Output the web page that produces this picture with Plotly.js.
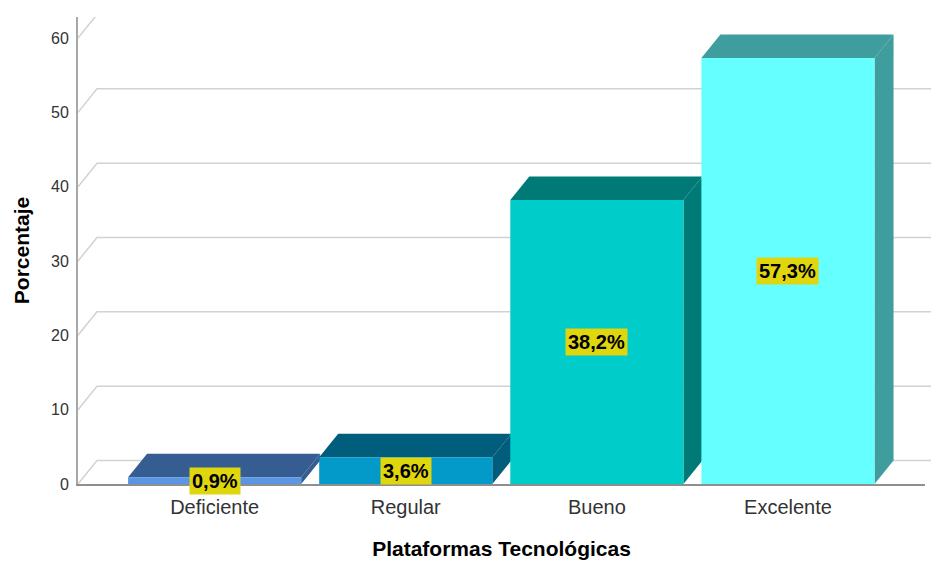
<!DOCTYPE html>
<html>
<head>
<meta charset="utf-8">
<script src="https://cdn.plot.ly/plotly-3.0.1.min.js"></script>
<style>html,body{margin:0;padding:0;background:#fff;}#chart{width:931px;height:561px;}</style>
</head>
<body>
<div id="chart"></div>
<script>
const categories = ['Deficiente', 'Regular', 'Bueno', 'Excelente'];
const percentages = [0.9, 3.6, 38.2, 57.3];
const frontColors = ['#5a96e2', '#0399c9', '#00cdca', '#66ffff'];
const depthColors = ['#365d91', '#005e7c', '#007a77', '#3f9d9d'];
const yTicks = [0, 10, 20, 30, 40, 50, 60];

const W = 931, H = 561;
const M = {l: 78, r: 6, t: 17, b: 77};
const xRange = [-0.715, 3.717];
const yRange = [0, 62.83];
const barWidth = 0.906;
const depthX = 19;      // px
const depthYpx = 23.5;  // px

const plotW = W - M.l - M.r;
const plotH = H - M.t - M.b;
const pxPerX = plotW / (xRange[1] - xRange[0]);
const pxPerY = plotH / (yRange[1] - yRange[0]);
const dY = depthYpx / pxPerY; // depth in data units
const hw = barWidth / 2 * pxPerX; // half width in px

const xs = categories.map((c, i) => i);
const font = 'Arial, "Liberation Sans", sans-serif';

const shapes = [];
// back-wall gridlines with perspective connector
yTicks.forEach(v => {
  shapes.push({
    type: 'path', layer: 'below',
    xref: 'paper', xsizemode: 'pixel', xanchor: 0,
    yref: 'y', ysizemode: 'scaled',
    path: `M0,${v} L${depthX},${v + dY} L${W - M.l},${v + dY}`,
    line: {color: '#d2d2d2', width: 1.5}
  });
});
// 3D top and side faces
percentages.forEach((v, i) => {
  shapes.push({
    type: 'path', layer: 'below',
    xref: 'x', xsizemode: 'pixel', xanchor: xs[i],
    yref: 'y', ysizemode: 'scaled',
    path: `M${-hw},${v} L${-hw + depthX},${v + dY} L${hw + depthX},${v + dY} L${hw},${v} Z`,
    fillcolor: depthColors[i], line: {width: 0}
  });
  shapes.push({
    type: 'path', layer: 'below',
    xref: 'x', xsizemode: 'pixel', xanchor: xs[i],
    yref: 'y', ysizemode: 'scaled',
    path: `M${hw},0 L${hw + depthX},${dY} L${hw + depthX},${v + dY} L${hw},${v} Z`,
    fillcolor: depthColors[i], line: {width: 0}
  });
});

const annotations = percentages.map((v, i) => ({
  x: xs[i], y: v / 2, xref: 'x', yref: 'y',
  text: v.toFixed(1).replace('.', ',') + '%',
  showarrow: false,
  bgcolor: '#e0d60e', borderpad: 2,
  font: {family: font, size: 20, color: '#000', weight: 'bold'}
}));

const trace = {
  type: 'bar', x: xs, y: percentages, width: barWidth,
  marker: {color: frontColors, line: {width: 0}},
  hoverinfo: 'skip'
};

const layout = {
  width: W, height: H,
  margin: M,
  paper_bgcolor: '#fff', plot_bgcolor: 'rgba(0,0,0,0)',
  showlegend: false,
  font: {family: font},
  xaxis: {
    range: xRange, tickvals: xs, ticktext: categories,
    showgrid: false, zeroline: false,
    showline: true, linecolor: '#8f8f8f', linewidth: 2,
    ticks: 'outside', ticklen: 4, tickcolor: 'rgba(0,0,0,0)',
    tickfont: {family: font, size: 20, color: '#333'},
    title: {text: 'Plataformas Tecnológicas', standoff: 24,
            font: {family: font, size: 21, color: '#000', weight: 'bold'}},
    automargin: false, fixedrange: true
  },
  yaxis: {
    range: yRange, tickvals: yTicks,
    showgrid: false, zeroline: false,
    showline: true, linecolor: '#a8a8a8', linewidth: 2,
    ticks: 'outside', ticklen: 4, tickcolor: 'rgba(0,0,0,0)',
    tickfont: {family: font, size: 16, color: '#333'},
    title: {text: 'Porcentaje', standoff: 16,
            font: {family: font, size: 21, color: '#000', weight: 'bold'}},
    automargin: false, fixedrange: true
  },
  shapes: shapes,
  annotations: annotations
};

Plotly.newPlot('chart', [trace], layout, {displayModeBar: false, staticPlot: true});
</script>
</body>
</html>
